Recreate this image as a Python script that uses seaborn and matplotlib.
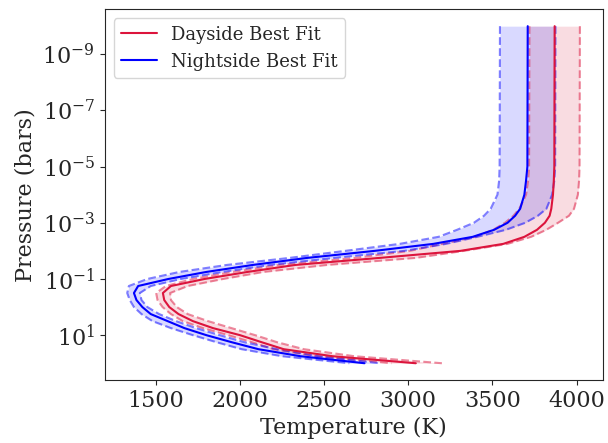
import numpy as np
import matplotlib
matplotlib.use("Agg")
import matplotlib.pyplot as plt
import matplotlib.ticker as mticker
import seaborn as sns

# pressure levels (log10 bar) shared by all profiles
log_pressure = [-10, -5, -4.5, -4, -3.5, -3.25, -3, -2.75, -2.5, -2.25, -2, -1.75,
                -1.5, -1.25, -1, -0.75, -0.5, -0.25, 0, 0.25, 0.5, 0.75, 1,
                1.25, 1.5, 1.75, 2]

# dayside temperature profiles (K)
day_best = [3870, 3868, 3865, 3860, 3850, 3840, 3812, 3765, 3690, 3565, 3310, 2830,
            2330, 2045, 1790, 1590, 1542, 1550, 1580, 1635, 1720, 1840, 2000,
            2128, 2260, 2550, 3045]
day_low = [3720, 3718, 3712, 3700, 3660, 3625, 3575, 3505, 3395, 3200, 3010, 2680,
           2235, 1955, 1720, 1560, 1502, 1510, 1540, 1590, 1660, 1780, 1930,
           2070, 2200, 2450, 2900]
day_high = [4020, 4018, 4015, 4008, 3985, 3955, 3890, 3820, 3730, 3590, 3330, 3045,
            2520, 2140, 1900, 1690, 1585, 1590, 1625, 1690, 1810, 1950, 2090,
            2220, 2380, 2680, 3200]

# nightside temperature profiles (K)
night_best = [3710, 3708, 3700, 3690, 3665, 3635, 3590, 3510, 3383, 3150, 2800, 2400,
              2077, 1800, 1575, 1395, 1370, 1385, 1420, 1470, 1570, 1670, 1800,
              1950, 2110, 2360, 2740]
night_low = [3545, 3543, 3540, 3530, 3490, 3450, 3390, 3290, 3180, 2950, 2625, 2294,
             1923, 1640, 1450, 1340, 1330, 1345, 1370, 1415, 1480, 1590, 1720,
             1860, 2010, 2250, 2650]
night_high = [3875, 3873, 3868, 3855, 3821, 3770, 3695, 3580, 3410, 3225, 2977, 2560,
              2179, 1897, 1649, 1470, 1405, 1415, 1450, 1520, 1620, 1740, 1880,
              2026, 2220, 2470, 2830]

pressure = 10.0 ** np.array(log_pressure)
pressure_ticks = [1e-9, 1e-7, 1e-5, 1e-3, 1e-1, 1e1]
temp_ticks = [1500, 2000, 2500, 3000, 3500, 4000]

sns.set_style("ticks")
plt.rcParams['font.family'] = ['DejaVu Serif']
plt.rcParams['mathtext.fontset'] = 'dejavuserif'

fig, ax = plt.subplots(figsize=(6.08, 4.43), dpi=100)
fig.subplots_adjust(left=0.172, right=0.991, top=0.979, bottom=0.142)

day_col = 'crimson'
night_col = 'blue'

ax.fill_betweenx(pressure, day_low, day_high, color=day_col, alpha=0.15, lw=0)
ax.fill_betweenx(pressure, night_low, night_high, color=night_col, alpha=0.15, lw=0)

for prof in [day_low, day_high]:
    sns.lineplot(x=prof, y=pressure, sort=False, estimator=None, color=day_col,
                 linestyle='--', alpha=0.5, lw=1.5, legend=False, ax=ax)
for prof in [night_low, night_high]:
    sns.lineplot(x=prof, y=pressure, sort=False, estimator=None, color=night_col,
                 linestyle='--', alpha=0.5, lw=1.5, legend=False, ax=ax)

sns.lineplot(x=day_best, y=pressure, sort=False, estimator=None, color=day_col,
             lw=1.5, label='Dayside Best Fit', ax=ax)
sns.lineplot(x=night_best, y=pressure, sort=False, estimator=None, color=night_col,
             lw=1.5, label='Nightside Best Fit', ax=ax)

ax.set_yscale('log')
ax.autoscale()
ax.invert_yaxis()
ax.set_yticks(pressure_ticks)
ax.yaxis.set_minor_locator(mticker.NullLocator())
ax.set_xticks(temp_ticks)

ax.set_xlabel('Temperature (K)', fontsize=16)
ax.set_ylabel('Pressure (bars)', fontsize=16)
ax.tick_params(labelsize=16)
ax.legend(loc='upper left', fontsize=13)

plt.savefig('out.png', dpi=100)
